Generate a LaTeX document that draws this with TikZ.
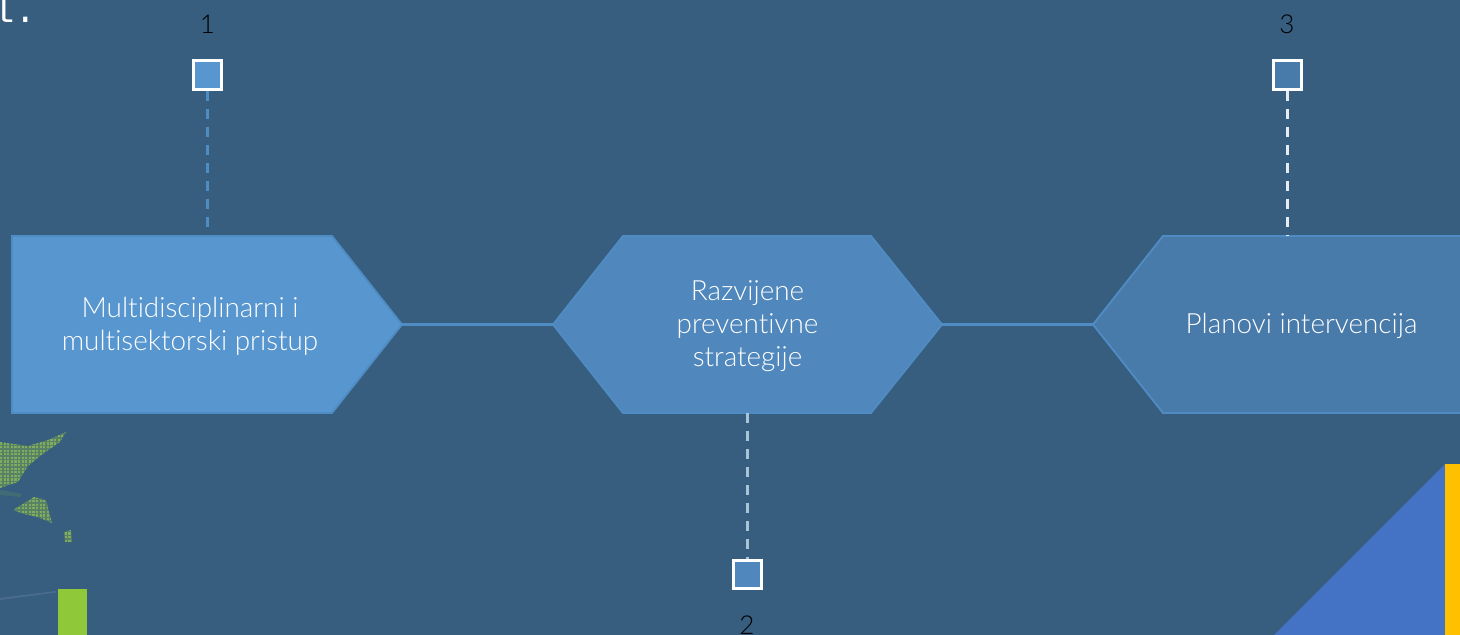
\documentclass[tikz,border=0pt]{standalone}
\usepackage{fontspec}
\setmainfont[Ligatures=NoCommon,UprightFont=* Light]{Lato}
\newfontfamily\monof{Liberation Mono}
\definecolor{bgc}{HTML}{375D7F}
\definecolor{hexa}{HTML}{5796CF}
\definecolor{hexb}{HTML}{5087BC}
\definecolor{hexc}{HTML}{487AAA}
\definecolor{edgec}{HTML}{4F8CC4}
\definecolor{dasha}{HTML}{4F8CC4}
\definecolor{dashb}{HTML}{A8C4D8}
\definecolor{dashc}{HTML}{E6ECF1}
\definecolor{greenb}{HTML}{8FC93A}
\definecolor{greenc}{HTML}{7FB048}
\definecolor{triblue}{HTML}{4472C4}
\definecolor{ambr}{HTML}{FFC000}
\tikzset{
 x=0.75pt,y=-0.75pt,
 hexshape/.style={draw=edgec,line width=1.4pt,line join=miter},
 hexlabel/.style={text=white,font=\fontsize{20.9}{24.6}\selectfont,align=center,inner sep=0pt},
 marker/.style={draw=white,line width=2.2pt,minimum size=21.5pt,inner sep=0pt},
 numlabel/.style={text=black,font=\fontsize{19.5}{20}\selectfont,inner sep=0pt},
 link/.style={draw=edgec,line width=2pt},
 stem/.style={line width=2.25pt,dash pattern=on 7.5pt off 6pt},
}
\begin{document}
\begin{tikzpicture}
\useasboundingbox (0,0) rectangle (1460,635);
\clip (0,0) rectangle (1460,635);
\fill[bgc] (0,0) rectangle (1460,635);
% top-left text fragment
\node[anchor=base west,inner sep=0pt,text=white,font=\monof\fontsize{27.5}{27.5}\selectfont] (frag) at (-8,22.5) {l.};
% green remnants at left
\begin{scope}
\clip (0,442) -- (28,446) -- (48,440) -- (66,432) -- (60,442) -- (40,456) -- (28,466) -- (18,482) -- (0,488) -- cycle
      (13,510) -- (34,497) -- (46,500) -- (52,523) -- (38,517) -- (24,514) -- cycle
      (64,532) -- (71,530) -- (72,542) -- (65,542) -- cycle;
\fill[greenc,opacity=.45] (0,425) rectangle (75,545);
\foreach \gx in {0,3.6,...,74}{\foreach \gy in {428,431.6,...,545}{
  \fill[greenb!85!white,opacity=.55] (\gx,\gy) rectangle +(2.2,2.2);}}
\end{scope}
\fill[greenc,opacity=.18] (0,490) -- (22,494) -- (20,497) -- (0,495) -- cycle;
\fill[white,opacity=.1] (0,598) -- (56,591) -- (56,592.5) -- (0,600) -- cycle;
\fill[greenb] (58,589) rectangle (87,635);
% corner shapes
\fill[triblue] (1445,464) -- (1445,635) -- (1274,635) -- cycle;
\fill[ambr] (1445,464) rectangle (1460,635);
% chevrons
\draw[hexshape,fill=hexa] (12,236) -- (332,236) -- (402,324.5) -- (332,413) -- (12,413) -- cycle;
\draw[hexshape,fill=hexb] (553,324.5) -- (623,236) -- (871,236) -- (942,324.5) -- (871,413) -- (623,413) -- cycle;
\draw[hexshape,fill=hexc] (1093,324.5) -- (1163,236) -- (1475,236) -- (1475,413) -- (1163,413) -- cycle;
\coordinate (tipa) at (402,324.5);
\coordinate (leftb) at (553,324.5);
\coordinate (tipb) at (942,324.5);
\coordinate (leftc) at (1093,324.5);
\coordinate (topa) at (207.5,236);
\coordinate (botb) at (747.5,413);
\coordinate (topc) at (1287.5,236);
\draw[link] (tipa) -- (leftb);
\draw[link] (tipb) -- (leftc);
% markers
\node[marker,fill=hexa] (ma) at (207.5,75) {};
\node[marker,fill=hexb] (mb) at (747.5,574.5) {};
\node[marker,fill=hexc] (mc) at (1287.5,75) {};
\draw[stem,draw=dasha] (ma.south) -- (topa);
\draw[stem,draw=dashb] (botb) -- (mb.north);
\draw[stem,draw=dashc] (mc.south) -- (topc);
% labels
\node[hexlabel] (la) at (190,326) {Multidisciplinarni i\\multisektorski pristup};
\node[hexlabel] (lb) at (747.5,326) {Razvijene\\preventivne\\strategije};
\node[hexlabel] (lc) at (1301.5,326) {Planovi intervencija};
\node[numlabel] (na) at (207.5,24) {1};
\node[numlabel] (nb) at (747,625) {2};
\node[numlabel] (nc) at (1287,24) {3};
\end{tikzpicture}
\end{document}
